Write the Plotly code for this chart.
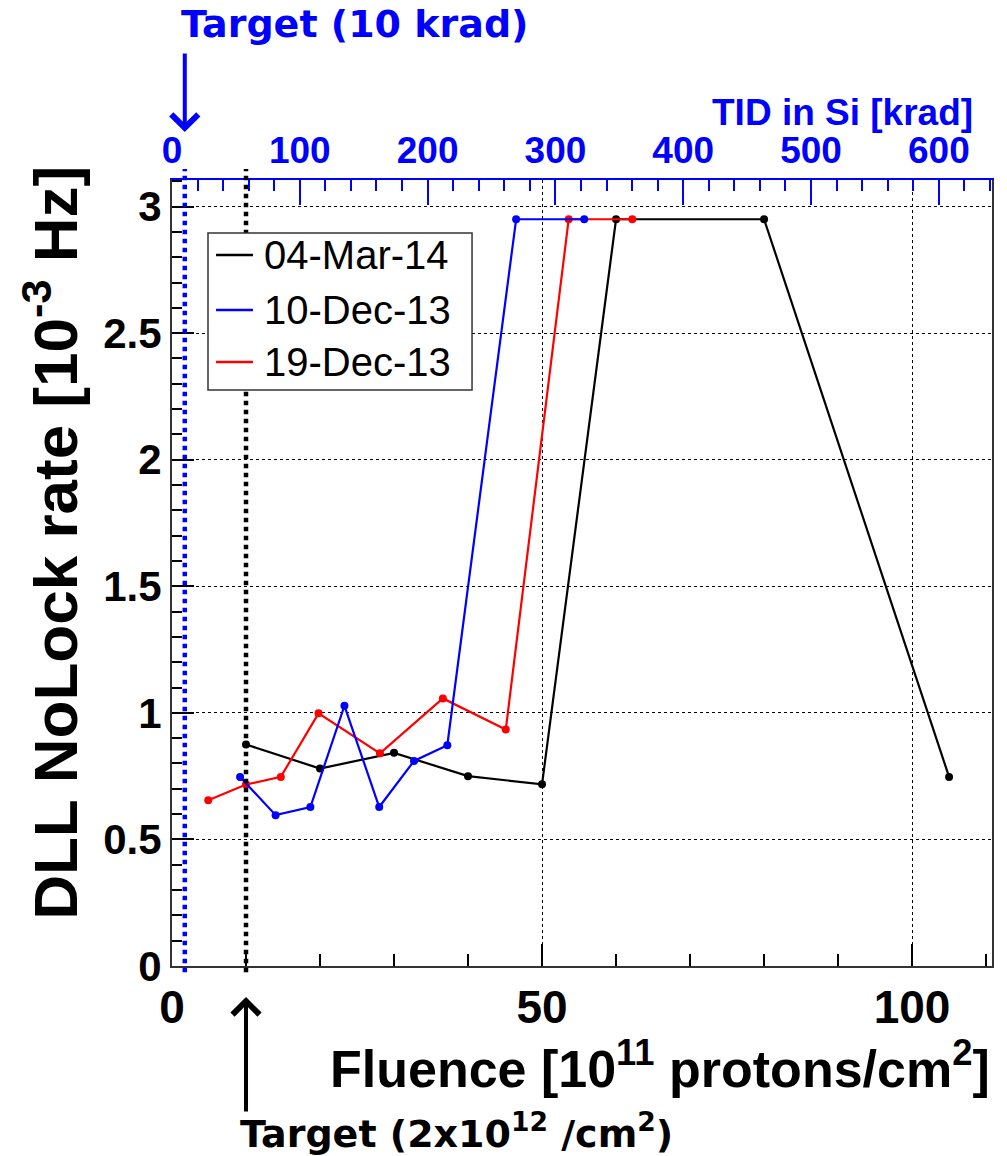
import plotly.graph_objects as go

# ---- data ----
series_names = ["04-Mar-14", "10-Dec-13", "19-Dec-13"]
series_colors = ["black", "blue", "red"]

fluence_mar14 = [10, 20, 30, 40, 50, 60, 80, 105]
rate_mar14 = [0.875, 0.78, 0.842, 0.75, 0.718, 2.95, 2.95, 0.747]

fluence_dec10 = [9.2, 14.0, 18.7, 23.3, 28.0, 32.7, 37.2, 46.5, 55.7]
rate_dec10 = [0.747, 0.596, 0.628, 1.028, 0.628, 0.81, 0.872, 2.95, 2.95]

fluence_dec19 = [4.9, 10.0, 14.7, 19.8, 28.1, 36.6, 45.1, 53.6, 62.2]
rate_dec19 = [0.655, 0.717, 0.747, 0.998, 0.84, 1.057, 0.934, 2.95, 2.95]

x_range = [0, 110.8]          # fluence [1e11 p/cm2]
tid_range = [0, 641.6]        # TID in Si [krad]
y_range = [0, 3.105]
target_tid = 10               # krad
target_fluence = 10           # drawn position on fluence axis

FONT = "Liberation Sans"
FONT2 = "DejaVu Sans"

fig = go.Figure()

xs = {"04-Mar-14": fluence_mar14, "10-Dec-13": fluence_dec10, "19-Dec-13": fluence_dec19}
ys = {"04-Mar-14": rate_mar14, "10-Dec-13": rate_dec10, "19-Dec-13": rate_dec19}
col = dict(zip(series_names, series_colors))

for name in ["04-Mar-14", "19-Dec-13", "10-Dec-13"]:
    fig.add_trace(go.Scatter(
        x=xs[name], y=ys[name], mode="lines+markers", name=name,
        line=dict(color=col[name], width=2.2),
        marker=dict(color=col[name], size=8),
        showlegend=False, hoverinfo="skip"))

# invisible trace to activate top axis
fig.add_trace(go.Scatter(x=[None], y=[None], xaxis="x2", showlegend=False,
                         hoverinfo="skip", mode="lines"))

fig.update_layout(
    width=1007, height=1156,
    margin=dict(l=172, r=15, t=180, b=190),
    paper_bgcolor="white", plot_bgcolor="white",
    font=dict(family=FONT, color="black"),
    showlegend=False,
    xaxis=dict(range=x_range, dtick=50, tick0=0, ticks="inside", ticklen=22,
               tickwidth=1.5, tickcolor="black",
               minor=dict(dtick=10, ticks="inside", ticklen=12, tickcolor="black", tickwidth=1.5),
               showline=True, linecolor="#333", linewidth=2,
               showgrid=True, gridcolor="black", gridwidth=1, griddash="dot",
               zeroline=False,
               tickfont=dict(family=FONT, size=46, weight="bold", color="black")),
    xaxis2=dict(range=tid_range, overlaying="x", side="top", anchor="y",
                dtick=100, tick0=0, ticks="inside", ticklen=25, tickwidth=1.5,
                tickcolor="blue",
                minor=dict(dtick=20, ticks="inside", ticklen=11, tickcolor="blue", tickwidth=1.5),
                showline=True, linecolor="blue", linewidth=2,
                showgrid=False, zeroline=False,
                tickfont=dict(family=FONT, size=37, weight="bold", color="blue")),
    yaxis=dict(range=y_range, dtick=0.5, tick0=0, ticks="inside", ticklen=22,
               tickwidth=1.5, tickcolor="black",
               minor=dict(dtick=0.1, ticks="inside", ticklen=10, tickcolor="black", tickwidth=1.5),
               showline=True, linecolor="#333", linewidth=2, mirror=True,
               showgrid=True, gridcolor="black", gridwidth=1, griddash="dot",
               zeroline=False,
               tickfont=dict(family=FONT, size=42, weight="bold", color="black")),
)

# target lines
fig.add_shape(type="line", xref="x2", yref="paper", x0=target_tid, x1=target_tid,
              y0=-0.008, y1=1.014, line=dict(color="blue", width=4.5, dash="dot"))
fig.add_shape(type="line", xref="x", yref="paper", x0=target_fluence, x1=target_fluence,
              y0=-0.008, y1=1.014, line=dict(color="black", width=4.5, dash="dot"))

# legend box (drawn manually for exact placement)
leg_x0, leg_x1, leg_y0, leg_y1 = 0.0439, 0.3659, 0.7328, 0.9326
fig.add_shape(type="rect", xref="paper", yref="paper", x0=leg_x0, x1=leg_x1,
              y0=leg_y0, y1=leg_y1, fillcolor="white",
              line=dict(color="#333", width=1.5), layer="above")
row_y = [0.9046, 0.8346, 0.7684]
for name, ry in zip(series_names, row_y):
    fig.add_shape(type="line", xref="paper", yref="paper", x0=0.0537, x1=0.0988,
                  y0=ry, y1=ry, line=dict(color=col[name], width=2.5), layer="above")
    fig.add_annotation(x=0.1098, y=ry, xref="paper", yref="paper", showarrow=False,
                       text=name, xanchor="left", yanchor="middle",
                       font=dict(family=FONT, size=40, color="black"))

# arrows
fig.add_annotation(x=target_tid, xref="x2", y=1.0611, yref="paper", text="",
                   showarrow=True, ax=0, ay=-80, arrowcolor="blue", arrowwidth=4,
                   arrowhead=4, arrowsize=1.3)
fig.add_annotation(x=target_fluence, xref="x", y=-0.0394, yref="paper", text="",
                   showarrow=True, ax=0, ay=116, arrowcolor="black", arrowwidth=4,
                   arrowhead=4, arrowsize=1.3)

# texts
fig.add_annotation(x=(178 + 530) / 2 / 820 - 172 / 820, y=1.1985, xref="paper", yref="paper",
                   showarrow=False, text="Target (10 krad)", xanchor="center", yanchor="middle",
                   font=dict(family=FONT2, size=38, weight="bold", color="blue"))
fig.add_annotation(x=(235 + 677) / 2 / 820 - 172 / 820, y=-0.2095, xref="paper", yref="paper",
                   showarrow=False,
                   text="Target (2x10<sup>12</sup> /cm<sup>2</sup>)", xanchor="center", yanchor="middle",
                   font=dict(family=FONT2, size=38, weight="bold", color="black"))
fig.add_annotation(x=0.979, y=1.0865, xref="paper", yref="paper", showarrow=False,
                   text="TID in Si [krad]", xanchor="right", yanchor="middle",
                   font=dict(family=FONT, size=37, weight="bold", color="blue"))
fig.add_annotation(x=1.0, y=-0.126, xref="paper", yref="paper", showarrow=False,
                   text="Fluence [10<sup>11</sup> protons/cm<sup>2</sup>]", xanchor="right", yanchor="middle",
                   font=dict(family=FONT, size=52, weight="bold", color="black"))
fig.add_annotation(x=-0.147, y=0.539, xref="paper", yref="paper", showarrow=False,
                   text="DLL NoLock rate [10<sup>-3</sup> Hz]", textangle=-90,
                   xanchor="center", yanchor="middle",
                   font=dict(family=FONT, size=62, weight="bold", color="black"))

fig.write_html("out.html")
